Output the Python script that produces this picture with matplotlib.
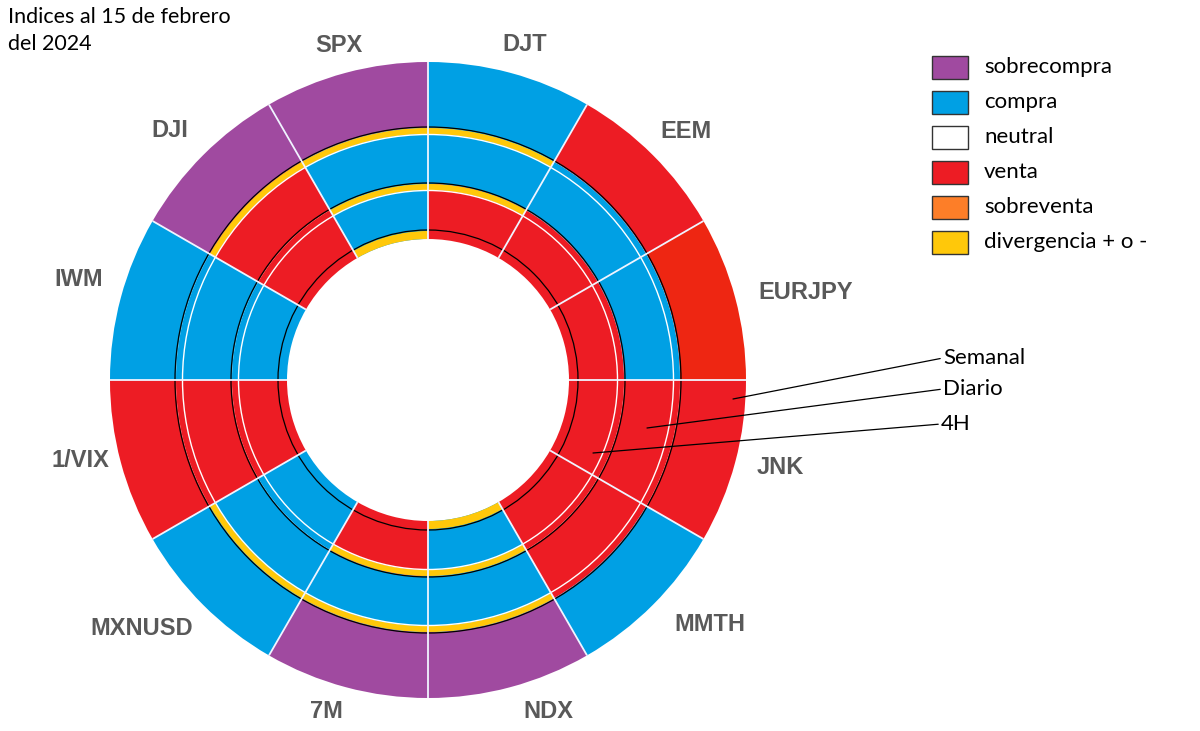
import numpy as np
import matplotlib
matplotlib.use('Agg')
from matplotlib import pyplot as plt
from matplotlib.patches import Wedge, Circle, Rectangle

# sectors clockwise from 12 o'clock
tickers = ['DJT', 'EEM', 'EURJPY', 'JNK', 'MMTH', 'NDX', '7M', 'MXNUSD', '1/VIX', 'IWM', 'DJI', 'SPX']

# state per timeframe
semanal = ['compra', 'venta', 'venta+', 'venta', 'compra', 'sobrecompra',
           'sobrecompra', 'compra', 'venta', 'compra', 'sobrecompra', 'sobrecompra']
diario = ['compra', 'compra', 'compra', 'venta', 'venta', 'compra',
          'compra', 'compra', 'venta', 'compra', 'venta', 'compra']
h4 = ['venta', 'venta', 'venta', 'venta', 'venta', 'compra',
      'venta', 'compra', 'venta', 'compra', 'venta', 'compra']

# divergence flags (yellow arcs)
div_semanal = [1, 0, 0, 0, 0, 1, 1, 1, 0, 0, 1, 1]
div_diario = [1, 0, 0, 0, 0, 1, 1, 0, 0, 0, 0, 1]
div_4h = [0, 0, 0, 0, 0, 1, 0, 0, 0, 0, 0, 1]

legend_labels = ['sobrecompra', 'compra', 'neutral', 'venta', 'sobreventa', 'divergencia + o -']

colors = {
    'sobrecompra': '#a04aa0',
    'compra': '#00a0e4',
    'neutral': '#ffffff',
    'venta': '#ed1c24',
    'venta+': '#ee2612',
    'sobreventa': '#fd7e28',
    'divergencia + o -': '#ffc80a',
}

# layout (pixels)
cx, cy = 428, 380
r_out, r_mid, r_in, r_hole = 318, 252, 196, 141
band = 6
label_pos = [(16, 349), (46, 358), (77, 388), (104, 363), (131, 373), (160, 353),
             (197, 347), (229, 379), (257, 357), (286, 363), (314, 359), (-15, 346)]

plt.rcParams['font.family'] = ['Lato', 'DejaVu Sans']

fig = plt.figure(figsize=(12, 7.31), dpi=100)
ax = fig.add_axes([0, 0, 1, 1])
ax.set_xlim(0, 1200)
ax.set_ylim(731, 0)
ax.set_aspect('equal')
ax.axis('off')

n = len(tickers)
step = 360 / n
rings = [(semanal, r_out, r_mid), (diario, r_mid, r_in), (h4, r_in, r_hole)]
for states, ro, ri in rings:
    for i, s in enumerate(states):
        t1, t2 = i * step - 90, (i + 1) * step - 90
        ax.add_patch(Wedge((cx, cy), ro, t1, t2, width=ro - ri,
                           facecolor=colors[s], edgecolor='none'))

# divergence bands
bands = [(div_semanal, r_mid), (div_diario, r_in), (div_4h, r_hole + band + 2)]
for flags, rb in bands:
    for i, f in enumerate(flags):
        if f:
            t1, t2 = i * step - 90, (i + 1) * step - 90
            ax.add_patch(Wedge((cx, cy), rb, t1, t2, width=band + (2 if rb < 180 else 0),
                               facecolor=colors['divergencia + o -'], edgecolor='none'))

# ring outlines
for r in [r_mid + 1, r_in + 1, r_hole + 9]:
    ax.add_patch(Circle((cx, cy), r, fill=False, edgecolor='black', lw=0.9))
for r in [r_mid - band - 0.5, r_in - band - 0.5]:
    ax.add_patch(Circle((cx, cy), r, fill=False, edgecolor='white', lw=1.0))

# radial separators
for i in range(n):
    a = np.radians(i * step)
    ax.plot([cx + r_hole * np.sin(a), cx + r_out * np.sin(a)],
            [cy - r_hole * np.cos(a), cy - r_out * np.cos(a)],
            color='#f0f4ff', lw=1.3, solid_capstyle='butt')

# ticker labels
for name, (ang, rad) in zip(tickers, label_pos):
    a = np.radians(ang)
    ax.text(cx + rad * np.sin(a), cy - rad * np.cos(a), name, ha='center', va='center',
            fontsize=17, fontweight='bold', color='#595959', family='Liberation Sans')

# legend
for j, lab in enumerate(legend_labels):
    y = 56 + j * 35
    ax.add_patch(Rectangle((932, y), 36, 23, facecolor=colors[lab], edgecolor='#333333', lw=1))
    ax.text(984, y + 11, lab, ha='left', va='center', fontsize=16, color='black')

# title
ax.text(8, 7, 'Indices al 15 de febrero\ndel 2024', ha='left', va='top', fontsize=15.5,
        color='black', linespacing=1.45)

# timeframe callouts
callouts = [('Semanal', (733, 399), (936, 358)),
            ('Diario', (647, 428), (936, 389)),
            ('4H', (593, 453), (934, 424))]
for txt, tip, pos in callouts:
    ax.annotate(txt, xy=tip, xytext=(pos[0] + 7, pos[1]), ha='left', va='center',
                fontsize=16, color='black',
                arrowprops=dict(arrowstyle='-', color='black', lw=0.9, shrinkA=0, shrinkB=0,
                                relpos=(0, 0.5)))

fig.savefig('out.png', dpi=100, facecolor='white')
